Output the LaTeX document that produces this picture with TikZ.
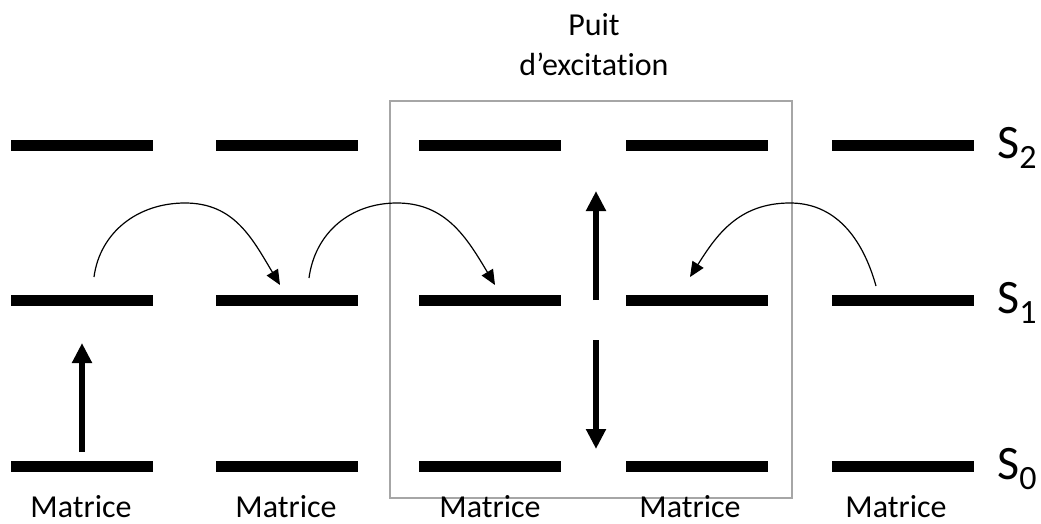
\documentclass[tikz,border=0pt]{standalone}
\usepackage{fontspec}
\setmainfont{Carlito}[Ligatures=NoCommon]
\usetikzlibrary{arrows.meta}
\definecolor{boxgray}{RGB}{166,166,166}
\begin{document}
\begin{tikzpicture}[x=1pt,y=-1pt,
  level/.style={fill=black, inner sep=0pt, minimum width=142pt, minimum height=11pt},
  mlabel/.style={anchor=base, inner sep=0pt, font=\fontsize{32}{38}\selectfont},
  slabel/.style={anchor=base west, inner sep=0pt, font=\fontsize{48}{56}\selectfont},
  bigarrow/.style={line width=6pt, -{Triangle[width=19pt,length=20pt]}},
  hop/.style={line width=1.2pt, -{Triangle[width=13pt,length=15pt]}},
]
\useasboundingbox (0,0) rectangle (1041,523);

% excitation well box
\node[draw=boxgray, line width=1.8pt, minimum width=402pt, minimum height=397pt, inner sep=0pt] (well) at (591,299.5) {};
\node[mlabel] (puit) at (594,35) {Puit};
\node[mlabel] (excit) at (594,75) {d’excitation};

% energy levels
\foreach \n/\x in {1/82,2/287,3/490,4/697,5/903} {
  \node[level] (b\n s0) at (\x,466) {};
  \node[level] (b\n s1) at (\x,300) {};
  \node[level] (b\n s2) at (\x,145) {};
}

% matrix labels
\foreach \n/\x in {1/81,2/286,3/490,4/690,5/896} {
  \node[mlabel] (m\n) at (\x,517) {Matrice};
}

% state labels
\node[slabel] (s2) at (997,158) {S\raisebox{-10pt}{\fontsize{34}{34}\selectfont 2}};
\node[slabel] (s1) at (997,313) {S\raisebox{-10pt}{\fontsize{34}{34}\selectfont 1}};
\node[slabel] (s0) at (997,479) {S\raisebox{-10pt}{\fontsize{34}{34}\selectfont 0}};

% vertical arrows
\coordinate (a1s) at (82,452);
\coordinate (a1e) at (82,343);
\coordinate (a2s) at (596,300);
\coordinate (a2e) at (596,191);
\coordinate (a3s) at (596,340);
\coordinate (a3e) at (596,449);
\draw[bigarrow] (a1s) -- (a1e);
\draw[bigarrow] (a2s) -- (a2e);
\draw[bigarrow] (a3s) -- (a3e);

% energy transfer hops
\coordinate (h1s) at (94,277);
\coordinate (h1p) at (185,203);
\coordinate (h1e) at (280,285);
\coordinate (h2s) at (309,278);
\coordinate (h2p) at (397,203);
\coordinate (h2e) at (495,285);
\coordinate (h3s) at (876,286);
\coordinate (h3p) at (790,203);
\coordinate (h3e) at (690,277);
\draw[hop] (h1s) .. controls (100,232) and (138,203) .. (h1p) .. controls (234,203) and (252,238) .. (h1e);
\draw[hop] (h2s) .. controls (315,233) and (350,203) .. (h2p) .. controls (446,203) and (467,238) .. (h2e);
\draw[hop] (h3s) .. controls (862,236) and (834,203) .. (h3p) .. controls (738,203) and (716,236) .. (h3e);
\end{tikzpicture}
\end{document}
